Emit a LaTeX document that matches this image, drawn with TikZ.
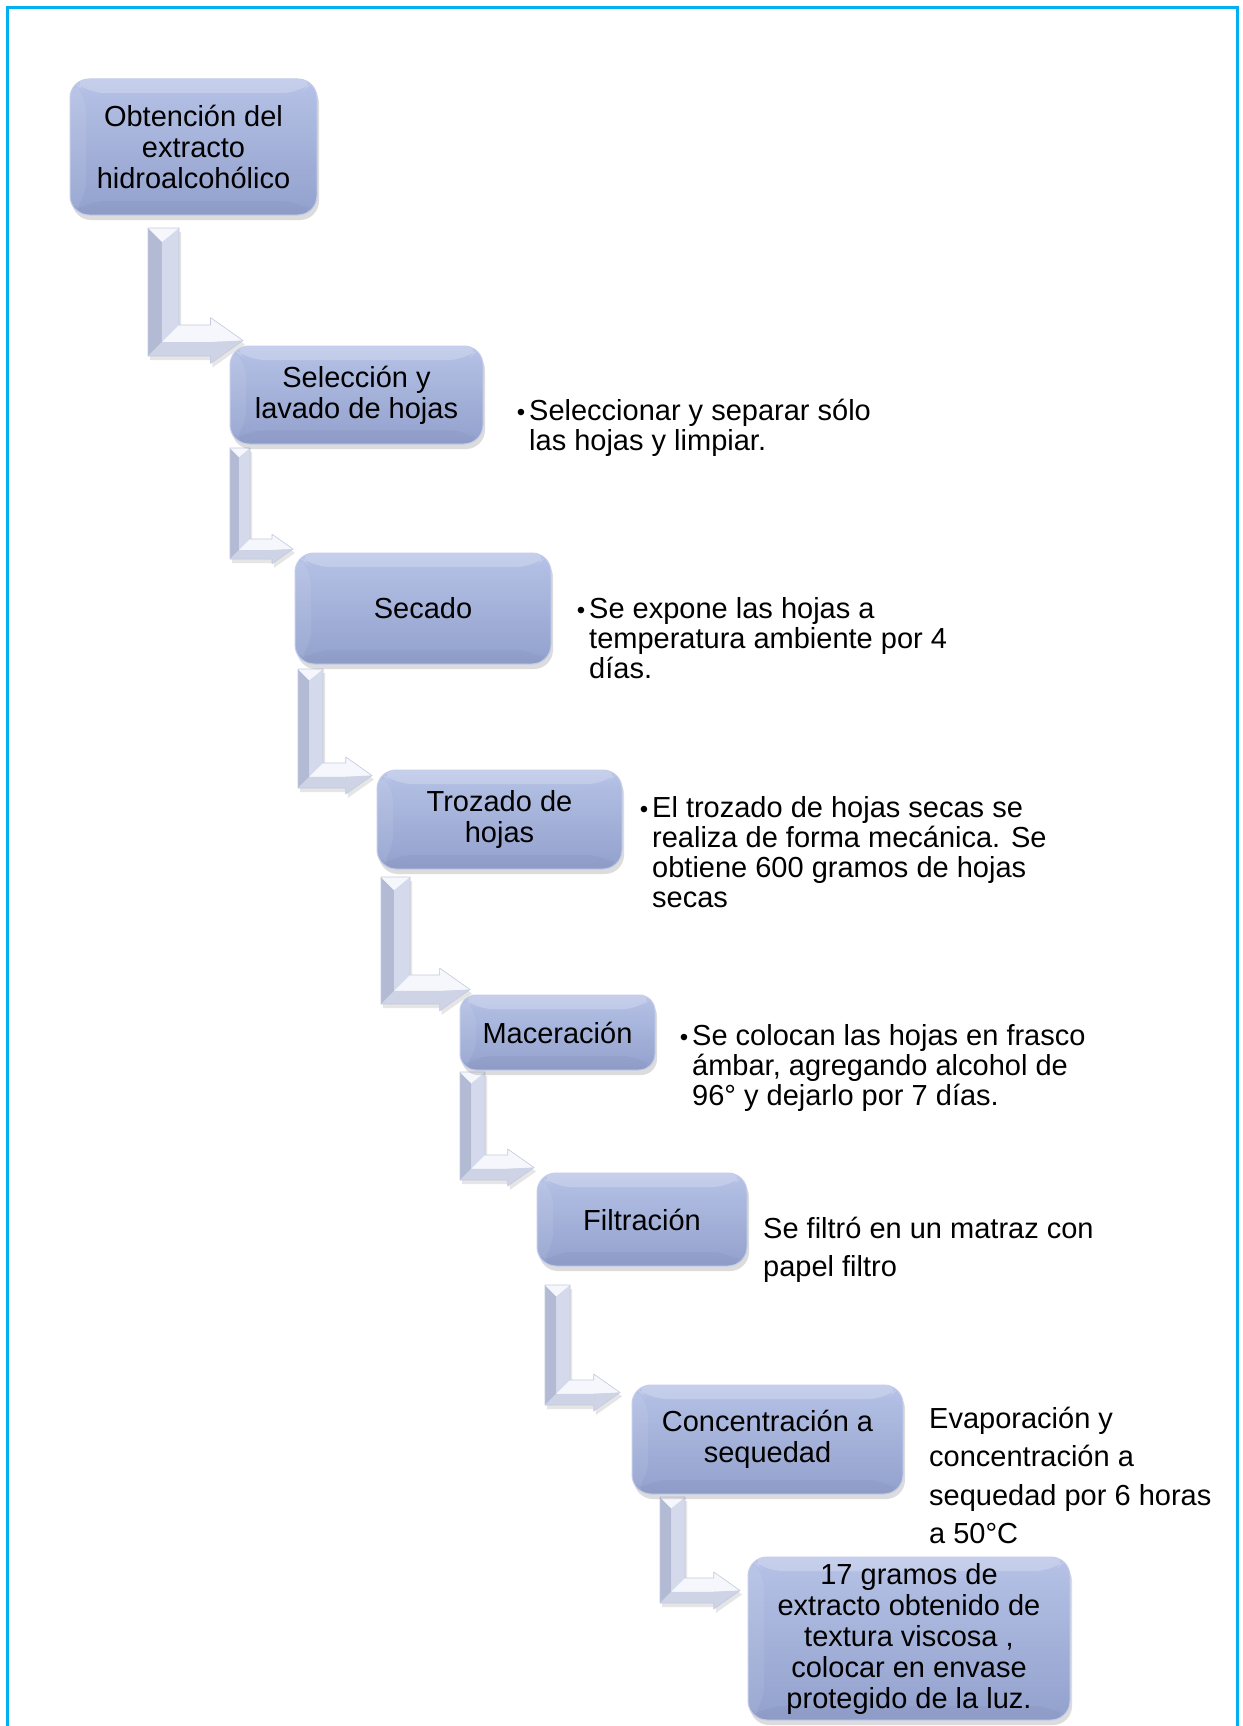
\documentclass[tikz,border=0pt]{standalone}
\usepackage{fontspec}
\setmainfont{Liberation Sans}
\usetikzlibrary{shadows,calc}

\definecolor{frameblue}{RGB}{0,176,240}
\definecolor{boxtop}{RGB}{182,194,230}
\definecolor{boxbot}{RGB}{146,161,205}
\definecolor{boxedge}{RGB}{196,205,234}
\definecolor{arrbase}{RGB}{222,226,240}
\definecolor{arrleft}{RGB}{178,186,212}
\definecolor{arrright}{RGB}{212,217,236}
\definecolor{arrtop}{RGB}{246,247,252}
\definecolor{arrlow}{RGB}{206,211,229}
\definecolor{arredge}{RGB}{196,202,224}

\newcommand\notebullet{\llap{{\fontsize{24}{24}\selectfont•}\hspace{4pt}}}

\tikzset{
  stepbox/.style={rounded corners=19pt, top color=boxtop, bottom color=boxbot,
    draw=boxedge, line width=1pt, align=center, inner sep=0pt,
    font=\fontsize{29}{31}\selectfont,
    drop shadow={shadow xshift=2pt, shadow yshift=-5pt, opacity=0.3, fill=black!45},
    path picture={
      \fill[white,opacity=0.22] (path picture bounding box.north west) -- (path picture bounding box.north east)
        -- ([xshift=-16pt,yshift=-14pt]path picture bounding box.north east) -- ([xshift=16pt,yshift=-14pt]path picture bounding box.north west) -- cycle;
      \fill[black,opacity=0.03] (path picture bounding box.south west) -- (path picture bounding box.south east)
        -- ([xshift=-16pt,yshift=14pt]path picture bounding box.south east) -- ([xshift=16pt,yshift=14pt]path picture bounding box.south west) -- cycle;
      \fill[white,opacity=0.08] (path picture bounding box.north west) -- ([xshift=16pt,yshift=-14pt]path picture bounding box.north west)
        -- ([xshift=16pt,yshift=14pt]path picture bounding box.south west) -- (path picture bounding box.south west) -- cycle;
    }},
  notetext/.style={anchor=base west, align=left, inner sep=0pt, font=\fontsize{29}{30.3}\selectfont},
  plaintext/.style={anchor=base west, align=left, inner sep=0pt, font=\fontsize{29}{38.5}\selectfont},
}

\newcommand\bentarr[5]{%
  \pgfmathsetmacro\ax{#1}\pgfmathsetmacro\aw{#2}\pgfmathsetmacro\at{#3}%
  \pgfmathsetmacro\ab{#4}\pgfmathsetmacro\atip{#5}%
  \pgfmathsetmacro\ar{\ax+\aw}\pgfmathsetmacro\am{\ax+0.45*\aw}%
  \pgfmathsetmacro\amy{\ab-0.45*\aw}\pgfmathsetmacro\atm{\at+0.45*\aw}%
  \pgfmathsetmacro\abw{\ab-\aw}\pgfmathsetmacro\acy{\ab-0.5*\aw}%
  \pgfmathsetmacro\axh{\atip-1.05*\aw}\pgfmathsetmacro\ah{0.74*\aw}%
  \pgfmathsetmacro\aht{\acy-\ah}\pgfmathsetmacro\ahb{\acy+\ah}%
  \fill[arrbase, drop shadow={shadow xshift=2pt, shadow yshift=-4pt, opacity=0.25, fill=black!40}]
    (\ax,\at) -- (\ar,\at) -- (\ar,\abw) -- (\axh,\abw) -- (\axh,\aht) -- (\atip,\acy)
    -- (\axh,\ahb) -- (\axh,\ab) -- (\ax,\ab) -- cycle;
  \fill[arrleft] (\ax,\at) -- (\am,\atm) -- (\am,\amy) -- (\ax,\ab) -- cycle;
  \fill[arrright] (\am,\atm) -- (\ar,\at) -- (\ar,\abw) -- (\am,\amy) -- cycle;
  \fill[arrtop] (\ax,\at) -- (\ar,\at) -- (\am,\atm) -- cycle;
  \fill[arrtop] (\am,\amy) -- (\ar,\abw) -- (\axh,\abw) -- (\axh,\aht) -- (\atip,\acy) -- (\axh,\amy) -- cycle;
  \fill[arrlow] (\ax,\ab) -- (\am,\amy) -- (\axh,\amy) -- (\atip,\acy) -- (\axh,\ahb) -- (\axh,\ab) -- cycle;
  \draw[arredge, line width=0.6pt, line join=round]
    (\ax,\at) -- (\ar,\at) -- (\ar,\abw) -- (\axh,\abw) -- (\axh,\aht) -- (\atip,\acy)
    -- (\axh,\ahb) -- (\axh,\ab) -- (\ax,\ab) -- cycle;
}

\begin{document}
\begin{tikzpicture}[x=1pt,y=-1pt]
\useasboundingbox (0,0) rectangle (1242,1726);
\fill[white] (0,0) rectangle (1242,1726);

% frame
\draw[frameblue, line width=3pt] (7.5,1726) -- (7.5,8) -- (1237,8) -- (1237,1726);

% arrows
\bentarr{148}{31}{228}{356}{243}
\bentarr{230}{20}{448}{559}{293}
\bentarr{298}{25}{669}{788}{372}
\bentarr{381}{29}{877}{1004}{470}
\bentarr{460}{25}{1072}{1180}{534}
\bentarr{545}{25}{1285}{1405}{620}
\bentarr{660}{25}{1497}{1603}{740}

% boxes
\node[stepbox, minimum width=247pt, minimum height=136pt] (b1) at (193.5,147) {Obtención del\\extracto\\hidroalcohólico};
\node[stepbox, minimum width=253pt, minimum height=98pt] (b2) at (356.5,395) {Selección y\\lavado de hojas};
\node[stepbox, minimum width=256pt, minimum height=111pt] (b3) at (423,608.5) {Secado};
\node[stepbox, minimum width=245pt, minimum height=99pt] (b4) at (499.5,819.5) {Trozado de\\hojas};
\node[stepbox, minimum width=195pt, minimum height=75pt, rounded corners=16pt] (b5) at (557.5,1032.5) {Maceración};
\node[stepbox, minimum width=210pt, minimum height=93pt] (b6) at (642,1219.5) {Filtración};
\node[stepbox, minimum width=271pt, minimum height=109pt] (b7) at (767.5,1439.5) {Concentración a\\sequedad};
\node[stepbox, minimum width=322pt, minimum height=163pt] (b8) at (909,1638.5) {17 gramos de\\extracto obtenido de\\textura viscosa ,\\colocar en envase\\protegido de la luz.};

% side notes (anchored at the baseline of their last line)
\node[notetext] (s2) at (529,450.3) {\notebullet Seleccionar y separar sólo\\las hojas y limpiar.};
\node[notetext] (s3) at (589,678.6) {\notebullet Se expone las hojas a\\temperatura ambiente por 4\\días.};
\node[notetext] (s4) at (652,907.9) {\notebullet El trozado de hojas secas se\\realiza de forma mecánica. Se\\obtiene 600 gramos de hojas\\secas};
\node[notetext] (s5) at (692,1105.6) {\notebullet Se colocan las hojas en frasco\\ámbar, agregando alcohol de\\96° y dejarlo por 7 días.};
\node[plaintext] (s6) at (763,1276.5) {Se filtró en un matraz con\\papel filtro};
\node[plaintext] (s7) at (929,1543.5) {Evaporación y\\concentración a\\sequedad por 6 horas\\a 50°C};
\end{tikzpicture}
\end{document}
